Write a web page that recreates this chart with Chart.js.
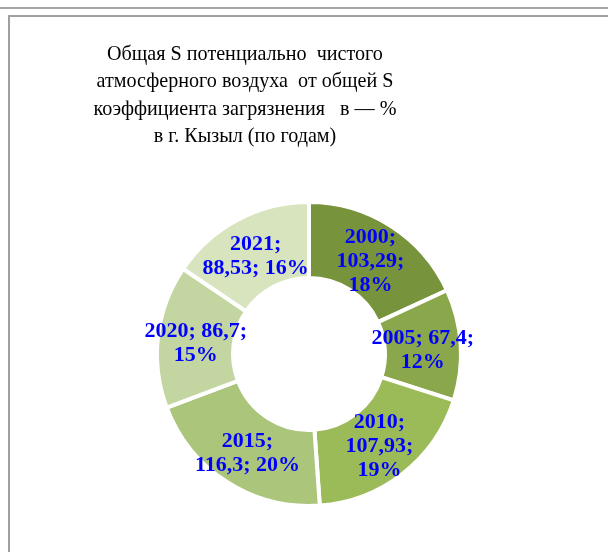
<!DOCTYPE html>
<html>
<head>
<meta charset="utf-8">
<script src="https://cdn.jsdelivr.net/npm/chart.js@4/dist/chart.umd.min.js"></script>
<style>
  html, body { margin: 0; padding: 0; background: #fff; }
  #page { position: relative; width: 608px; height: 552px; overflow: hidden; }
  #topline { position: absolute; left: 0; top: 7px; width: 608px; height: 2px; background: #a6a6a6; }
  #frame { position: absolute; left: 8px; top: 15px; width: 640px; height: 600px;
           border-left: 2px solid #a0a0a0; border-top: 2px solid #a0a0a0; }
  #wrap { position: absolute; left: 0; top: 0; width: 608px; height: 552px; }
</style>
</head>
<body>
<div id="page">
  <div id="topline"></div>
  <div id="frame"></div>
  <div id="wrap"><canvas id="chart"></canvas></div>
</div>
<script>
const years = ["2000", "2005", "2010", "2015", "2020", "2021"];
const values = [103.29, 67.4, 107.93, 116.3, 86.7, 88.53];
const sliceColors = ["#77933c", "#8aa74b", "#9bbb59", "#abc57b", "#c3d6a1", "#d7e4bd"];
// how many label parts go on each line: year; value; percent
const labelLines = [[1, 1, 1], [2, 1], [1, 1, 1], [1, 2], [2, 1], [1, 2]];
const titleLines = [
  "Общая S потенциально  чистого",
  "атмосферного воздуха  от общей S",
  "коэффициента загрязнения   в — %",
  "в г. Кызыл (по годам)"
];

function formatValue(v) {
  return String(v).replace(".", ",");
}

const titlePlugin = {
  id: "titleText",
  afterDraw: function (chart) {
    const ctx = chart.ctx;
    ctx.save();
    ctx.fillStyle = "#000";
    ctx.font = "22px 'Liberation Serif', 'Times New Roman', serif";
    ctx.textAlign = "center";
    ctx.textBaseline = "alphabetic";
    // the original title is set a little condensed
    ctx.translate(245, 0);
    ctx.scale(0.915, 1);
    titleLines.forEach(function (line, i) {
      ctx.fillText(line, 0, 60 + i * 27.4);
    });
    ctx.restore();
  }
};

const sliceLabels = {
  id: "sliceLabels",
  afterDatasetsDraw: function (chart) {
    const ctx = chart.ctx;
    const meta = chart.getDatasetMeta(0);
    const total = values.reduce(function (a, b) { return a + b; }, 0);
    ctx.save();
    ctx.fillStyle = "#0000ff";
    ctx.font = "bold 22px 'Liberation Serif', 'Times New Roman', serif";
    ctx.textAlign = "center";
    ctx.textBaseline = "middle";
    meta.data.forEach(function (arc, i) {
      const parts = [years[i] + ";", formatValue(values[i]) + ";", Math.round(values[i] / total * 100) + "%"];
      const lines = [];
      let k = 0;
      labelLines[i].forEach(function (n) {
        lines.push(parts.slice(k, k + n).join(" "));
        k += n;
      });
      const pos = arc.tooltipPosition();
      const lh = 24;
      const y0 = pos.y + 3 - (lines.length - 1) * lh / 2;
      lines.forEach(function (line, j) {
        ctx.fillText(line, pos.x, y0 + j * lh);
      });
    });
    ctx.restore();
  }
};

new Chart(document.getElementById("chart"), {
  type: "doughnut",
  data: {
    labels: years,
    datasets: [
      {
        data: values,
        backgroundColor: sliceColors,
        borderColor: "#ffffff",
        borderWidth: 4,
      },
    ],
  },
  options: {
    responsive: true,
    maintainAspectRatio: false,
    animation: false,
    cutout: "50%",
    layout: {
      padding: { left: 155, right: 145, top: 200, bottom: 44 },
    },
    plugins: {
      legend: { display: false },
      tooltip: { enabled: false },
    },
  },
  plugins: [titlePlugin, sliceLabels],
});
</script>
</body>
</html>
